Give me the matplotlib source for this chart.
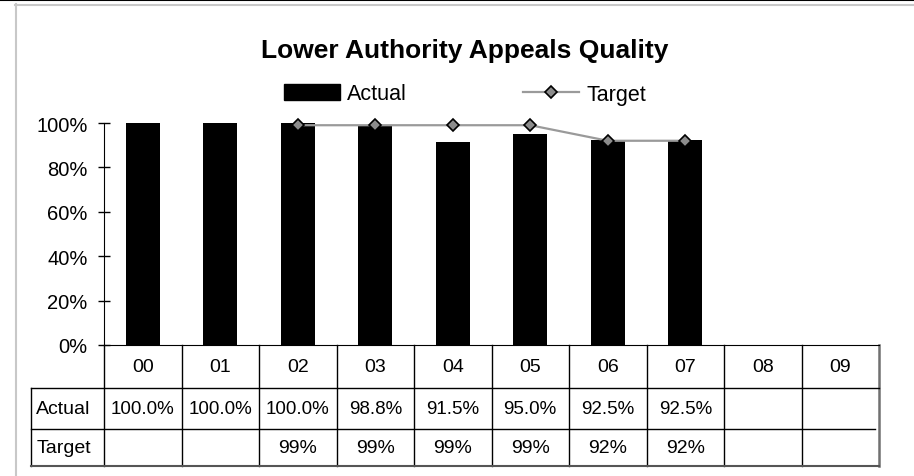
import numpy as np
import matplotlib.pyplot as plt
from matplotlib.lines import Line2D
from matplotlib.patches import Patch
import matplotlib.transforms as mtransforms

plt.rcParams['font.family'] = ['Liberation Sans', 'DejaVu Sans']

# Data
years = ['00', '01', '02', '03', '04', '05', '06', '07', '08', '09']
actual = [1.000, 1.000, 1.000, 0.988, 0.915, 0.950, 0.925, 0.925, None, None]
target = [None, None, 0.99, 0.99, 0.99, 0.99, 0.92, 0.92, None, None]
yticks = [0, 0.2, 0.4, 0.6, 0.8, 1.0]

W, H = 914, 477
fig = plt.figure(figsize=(W / 100, H / 100), dpi=100)

# axes box in pixels
ax_l, ax_r, ax_t, ax_b = 104, 879, 124, 346
ax = fig.add_axes([ax_l / W, 1 - ax_b / H, (ax_r - ax_l) / W, (ax_b - ax_t) / H])

act_x = [i for i, v in enumerate(actual) if v is not None]
act_v = [v for v in actual if v is not None]
tgt_x = [i for i, v in enumerate(target) if v is not None]
tgt_v = [v for v in target if v is not None]

line_kw = dict(color='#9a9a9a', lw=1.6, marker='D', ms=6,
               mfc='#8c8c8c', mec='black', mew=1.2)
ax.bar(act_x, act_v, width=0.44, color='black', zorder=2)
ax.plot(tgt_x, tgt_v, zorder=3, clip_on=False, **line_kw)

ax.set_xlim(-0.5, len(years) - 0.5)
ax.set_ylim(0, 1)
ax.set_yticks(yticks)
ax.set_yticklabels([f'{int(round(t * 100))}%' for t in yticks], fontsize=14.5)
ax.tick_params(axis='y', direction='inout', length=8.5, width=1, pad=7.5)
ax.set_xticks([])
for s in ['top', 'right']:
    ax.spines[s].set_visible(False)

# data table under the axes (x in data units, y in axes units)
tr = mtransforms.blended_transform_factory(ax.transData, ax.transAxes)
def ay(py):
    return (ax_b - py) / (ax_b - ax_t)

row_cat, row_act, row_tgt, row_end = ay(346), ay(389), ay(430), ay(467)
x_left = -0.5 - (ax_l - 31) / ((ax_r - ax_l) / len(years))
x_right = len(years) - 0.5
lkw = dict(transform=tr, clip_on=False, color='black', lw=1)

for b in np.arange(-0.5, x_right, 1.0):
    ax.add_line(Line2D([b, b], [row_cat, row_end], **lkw))
ax.add_line(Line2D([x_left, x_left], [row_act, row_end], **lkw))
ax.add_line(Line2D([x_right] * 2, [row_cat, row_end], transform=tr,
                   clip_on=False, color='#707070', lw=1.8))
ax.add_line(Line2D([x_left, x_right], [row_act, row_act], **lkw))
ax.add_line(Line2D([x_left, x_right - 0.05], [row_tgt, row_tgt], **lkw))
ax.add_line(Line2D([x_left, x_right], [row_end, row_end], transform=tr,
                   clip_on=False, color='#555555', lw=1.5))

mid_cat = (row_cat + row_act) / 2
mid_act = (row_act + row_tgt) / 2
mid_tgt = (row_tgt + row_end) / 2
fs = 14
for i, y in enumerate(years):
    ax.text(i, mid_cat, y, transform=tr, ha='center', va='center', fontsize=fs)
    if actual[i] is not None:
        ax.text(i, mid_act, f'{actual[i] * 100:.1f}%', transform=tr,
                ha='center', va='center', fontsize=13.5)
    if target[i] is not None:
        ax.text(i, mid_tgt, f'{target[i] * 100:.0f}%', transform=tr,
                ha='center', va='center', fontsize=fs)
ax.text(x_left + 0.07, mid_act, 'Actual', transform=tr, ha='left', va='center', fontsize=fs)
ax.text(x_left + 0.07, mid_tgt, 'Target', transform=tr, ha='left', va='center', fontsize=fs)

# title and legend
fig.text(465 / W, 1 - 58 / H, 'Lower Authority Appeals Quality',
         ha='center', va='baseline', fontsize=19, fontweight='bold')
handles = [Patch(facecolor='black', edgecolor='black'),
           Line2D([], [], **line_kw)]
fig.legend(handles, ['Actual', 'Target'], loc='center',
           bbox_to_anchor=(465 / W, 1 - 95 / H), ncol=2, frameon=False,
           fontsize=15.5, handlelength=2.6, handleheight=0.75,
           handletextpad=0.33, columnspacing=5.4, borderpad=0)

# outer frame
fkw = dict(transform=fig.transFigure)
fig.add_artist(Line2D([0, 1], [1 - 1 / H, 1 - 1 / H], color='black', lw=1.5, **fkw))
fig.add_artist(Line2D([15 / W, 1], [1 - 5.5 / H, 1 - 5.5 / H], color='#c8c8c8', lw=1.5, **fkw))
fig.add_artist(Line2D([15.5 / W, 15.5 / W], [0, 1 - 5 / H], color='#c8c8c8', lw=1.5, **fkw))

fig.savefig('out.png', dpi=100)
